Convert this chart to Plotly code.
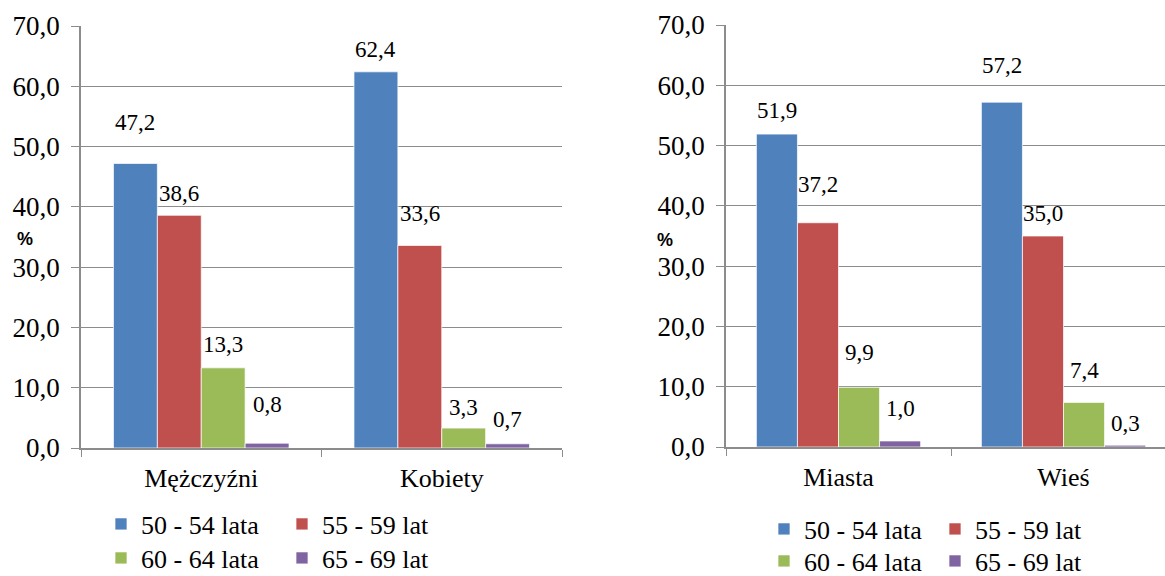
import plotly.graph_objects as go

# ---- data ----
series = ["50 - 54 lata", "55 - 59 lat", "60 - 64 lata", "65 - 69 lat"]
colors = ["#4F81BD", "#C0504D", "#9BBB59", "#8064A2"]

cats_left = ["Mężczyźni", "Kobiety"]
vals_left = [
    [47.2, 62.4],   # 50-54
    [38.6, 33.6],   # 55-59
    [13.3, 3.3],    # 60-64
    [0.8, 0.7],     # 65-69
]
cats_right = ["Miasta", "Wieś"]
vals_right = [
    [51.9, 57.2],
    [37.2, 35.0],
    [9.9, 7.4],
    [1.0, 0.3],
]
yticks = [0, 10, 20, 30, 40, 50, 60, 70]

# label offsets above the bar top (px) -- style only
shift_left = [[41, 22], [22, 32], [23, 21], [39, 24]]
shift_right = [[24, 37], [38, 23], [35, 32], [32, 22]]

W, H = 1165, 576
SERIF = "Liberation Serif, Times New Roman, serif"
SANS = "Liberation Sans, Arial, sans-serif"
GRID = "#8c8c8c"
BARGAP = 0.27
nser = len(series)
barw = (1 - BARGAP) / nser

def fmt(v):
    return f"{v:.1f}".replace(".", ",")

fig = go.Figure()
legend_names = [["legend", "legend", "legend2", "legend2"],
                ["legend3", "legend3", "legend4", "legend4"]]
annotations = []
for p, (cats, vals, shifts, xa, ya) in enumerate([
        (cats_left, vals_left, shift_left, "x", "y"),
        (cats_right, vals_right, shift_right, "x2", "y2")]):
    for s in range(nser):
        fig.add_trace(go.Bar(
            x=cats, y=vals[s], name=series[s], xaxis=xa, yaxis=ya,
            marker=dict(color=colors[s], line=dict(color="rgba(255,255,255,0.7)", width=1)),
            legend=legend_names[p][s], hoverinfo="skip",
        ))
        for i, v in enumerate(vals[s]):
            annotations.append(dict(
                x=i + (s - (nser - 1) / 2) * barw, y=v, xref=xa, yref=ya,
                text=fmt(v), showarrow=False, yanchor="middle",
                yshift=shifts[s][i], font=dict(family=SERIF, size=23, color="black"),
            ))

# "%" labels
annotations.append(dict(x=25 / W, y=(H - 239) / H, xref="paper", yref="paper", text="<b>%</b>",
                        xanchor="center", showarrow=False,
                        font=dict(family=SANS, size=18, color="black")))
annotations.append(dict(x=665 / W, y=(H - 240) / H, xref="paper", yref="paper", text="<b>%</b>",
                        xanchor="center", showarrow=False,
                        font=dict(family=SANS, size=18, color="black")))

yaxis_common = dict(range=[0, 70], tickvals=yticks, ticktext=[fmt(t) for t in yticks],
                    showgrid=True, gridcolor=GRID, gridwidth=1, showline=True, linecolor=GRID,
                    linewidth=1.5, ticks="outside", ticklen=8, tickcolor=GRID,
                    tickfont=dict(family=SERIF, size=27, color="black"), zeroline=False,
                    fixedrange=True, ticklabelstandoff=6, automargin=False)
xaxis_common = dict(showline=True, linecolor=GRID, linewidth=1.5, ticks="outside",
                    tickson="boundaries", ticklen=7, tickcolor=GRID, showgrid=False,
                    tickfont=dict(family=SERIF, size=26, color="black"), ticklabelstandoff=6,
                    automargin=False, fixedrange=True)

legend_common = dict(orientation="h", font=dict(family=SERIF, size=26, color="black"),
                     xanchor="left", yanchor="middle", bgcolor="rgba(0,0,0,0)",
                     entrywidthmode="pixels", tracegroupgap=0)

fig.update_layout(
    width=W, height=H, plot_bgcolor="white", paper_bgcolor="white",
    margin=dict(l=0, r=0, t=0, b=0, autoexpand=False), barmode="group", bargap=BARGAP,
    bargroupgap=0, showlegend=True,
    xaxis=dict(domain=[81 / W, 562 / W], range=[-0.5, 1.5], **xaxis_common),
    yaxis=dict(domain=[(H - 448) / H, (H - 26) / H], anchor="x", **yaxis_common),
    xaxis2=dict(domain=[726 / W, 1.0], range=[-0.5, -0.5 + 439 / 225], anchor="y2", **xaxis_common),
    yaxis2=dict(domain=[(H - 447) / H, (H - 25) / H], anchor="x2", **yaxis_common),
    legend=dict(x=101 / W, y=(H - 524) / H, entrywidth=136, **legend_common),
    legend2=dict(x=101 / W, y=(H - 558) / H, entrywidth=136, **legend_common),
    legend3=dict(x=764 / W, y=(H - 529) / H, entrywidth=126, **legend_common),
    legend4=dict(x=764 / W, y=(H - 561) / H, entrywidth=126, **legend_common),
    annotations=annotations,
)

fig.write_html("out.html", post_script="document.body.style.margin='0px';",
               config={"displayModeBar": False})
